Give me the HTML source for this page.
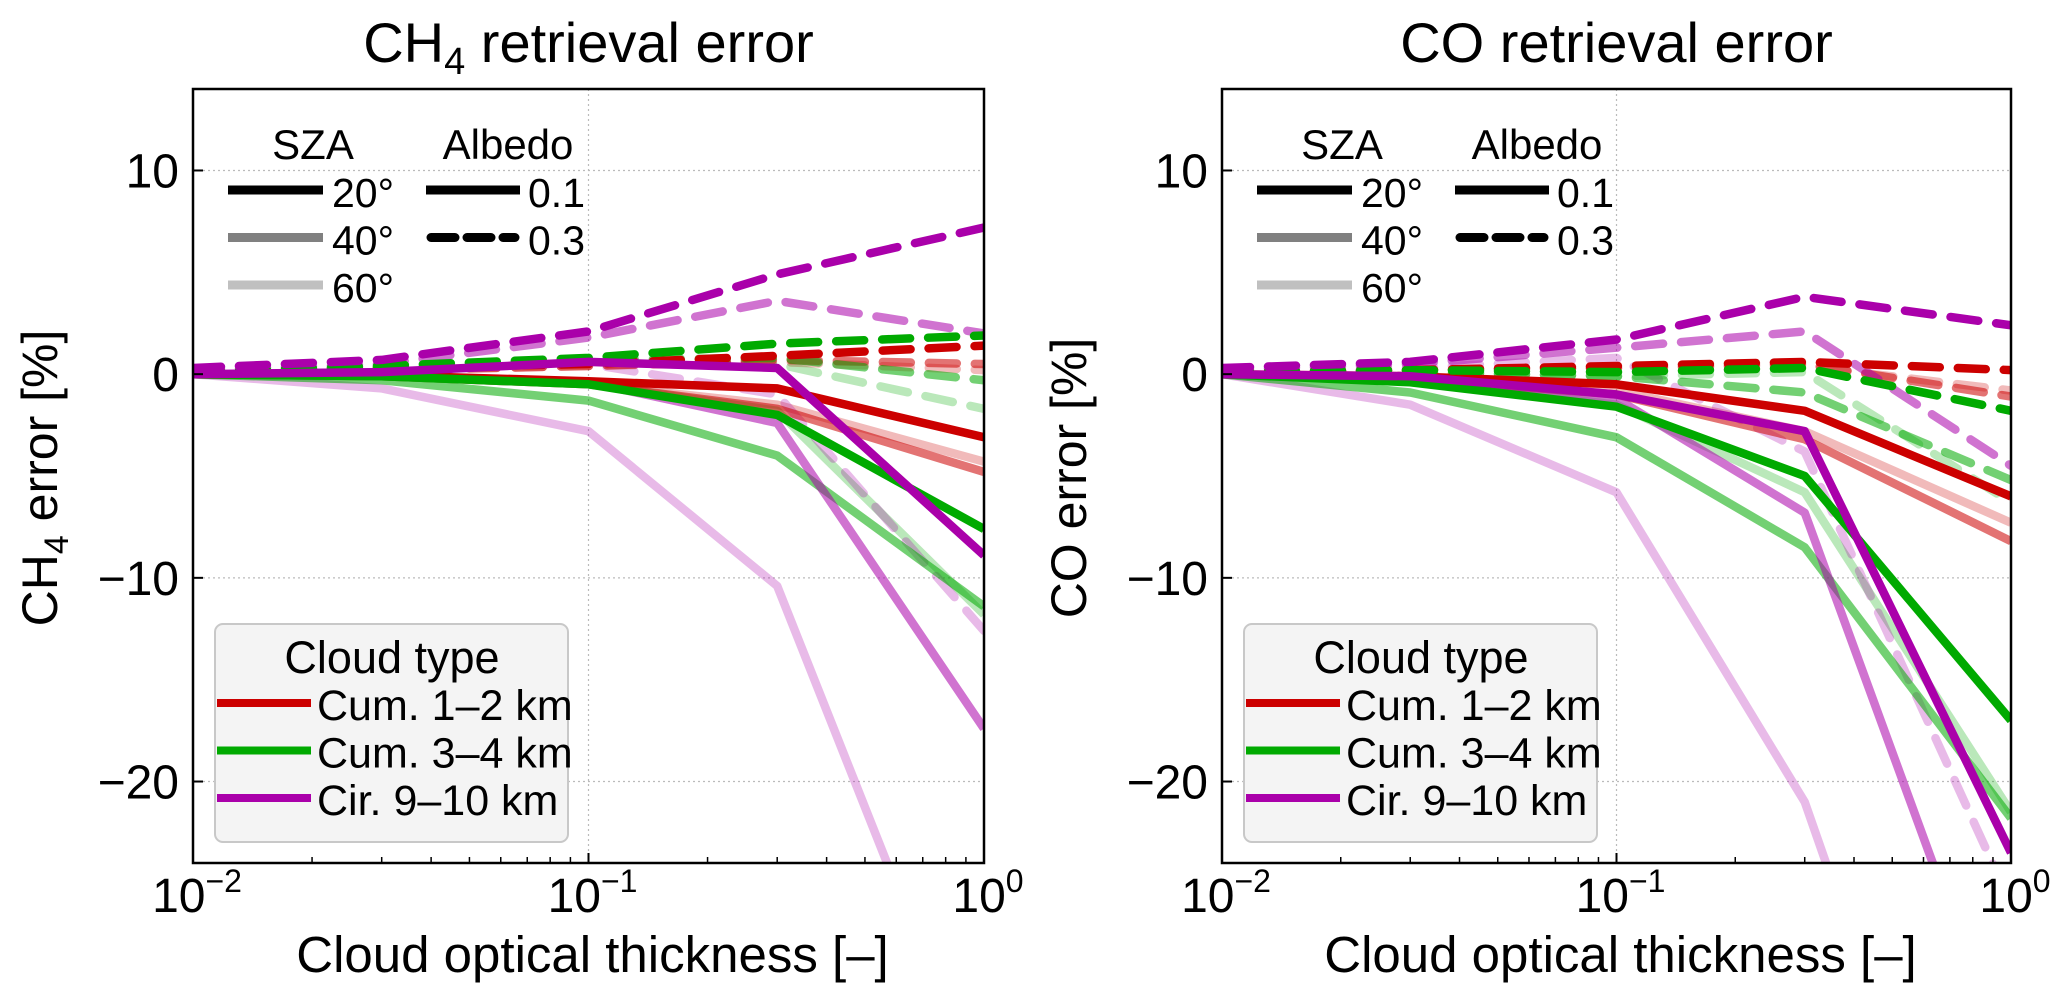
<!DOCTYPE html>
<html><head><meta charset="utf-8">
<style>
html,body{margin:0;padding:0;background:#fff;overflow:hidden;width:2067px;height:1000px;}
svg{display:block;font-family:"Liberation Sans",sans-serif;}
</style></head>
<body>
<svg id="fig" width="2067" height="1000" viewBox="0 0 2067 1000" xmlns="http://www.w3.org/2000/svg"></svg>
<script>
// ---- data ----
const xValues = [0.01, 0.03, 0.1, 0.3, 1];
const yTicks = [10, 0, -10, -20];
const yTickLabels = ["10", "0", "\u221210", "\u221220"];
const xTickExp = ["\u22122", "\u22121", "0"];
const cloudNames = ["Cum. 1\u20132 km", "Cum. 3\u20134 km", "Cir. 9\u201310 km"];
const szaLabels = ["20\u00b0", "40\u00b0", "60\u00b0"];
const albedoLabels = ["0.1", "0.3"];
// CH4: rows = SZA 20,40,60
const ch4CumLowA01 = [[0,-0.05,-0.35,-0.7,-3.1],[0,-0.1,-0.5,-1.7,-4.8],[0,-0.1,-0.5,-1.5,-4.3]];
const ch4CumLowA03 = [[0.1,0.3,0.5,0.9,1.4],[0.1,0.2,0.4,0.7,0.5],[0.1,0.2,0.4,0.6,0.2]];
const ch4CumMidA01 = [[0,-0.1,-0.5,-2.0,-7.6],[0,-0.3,-1.3,-4.0,-11.4],[0,-0.1,-0.5,-1.8,-11.8]];
const ch4CumMidA03 = [[0.1,0.4,0.8,1.5,1.9],[0.1,0.3,0.7,0.8,-0.3],[0.1,0.3,0.6,0.5,-1.7]];
const ch4CirA01 = [[0,0.1,0.6,0.3,-8.9],[0,-0.05,-0.4,-2.4,-17.4],[0,-0.7,-2.8,-10.4,-36]];
const ch4CirA03 = [[0.3,0.7,2.1,4.9,7.2],[0.2,0.5,1.8,3.6,2.0],[0.1,0.3,0.5,-1.0,-12.6]];
// CO
const coCumLowA01 = [[0,-0.1,-0.5,-1.8,-6.0],[0,-0.2,-1.0,-3.2,-8.2],[0,-0.1,-0.8,-2.8,-7.3]];
const coCumLowA03 = [[0.1,0.2,0.4,0.6,0.2],[0.1,0.2,0.3,0.5,-1.1],[0.1,0.2,0.3,0.4,-0.8]];
const coCumMidA01 = [[0,-0.4,-1.6,-5.0,-17.0],[0,-0.9,-3.1,-8.5,-21.8],[0,-0.3,-1.5,-5.8,-21.5]];
const coCumMidA03 = [[0.1,0.2,0.1,0.3,-1.8],[0.1,0.1,-0.1,-0.9,-5.2],[0.1,0.1,-0.1,0.1,-6.3]];
const coCirA01 = [[0,-0.1,-1.0,-2.8,-23.5],[0,-0.2,-1.2,-6.8,-34.5],[0,-1.5,-5.8,-21,-50]];
const coCirA03 = [[0.3,0.6,1.7,3.8,2.4],[0.2,0.5,1.3,2.1,-4.5],[0.1,0.3,0.8,-3.8,-26]];

const colors = ["#cc0000", "#00aa00", "#aa00aa"];
const alphas = [1, 0.55, 0.27];
const NS = "http://www.w3.org/2000/svg";
const svg = document.getElementById("fig");
function el(tag, attrs, parent) {
  const e = document.createElementNS(NS, tag);
  for (const k in attrs) e.setAttribute(k, attrs[k]);
  (parent || svg).appendChild(e);
  return e;
}
const Y0 = 89, Y1 = 863, YMIN = -24, YMAX = 14;

function panel(idx, x0, x1, title, yLabelMain, yLabelSub, series) {
  const g = el("g", {});
  
  
  const xs = v => x0 + (Math.log10(v) + 2) / 2 * (x1 - x0);
  const ys = v => Y0 + (YMAX - v) / (YMAX - YMIN) * (Y1 - Y0);
  const cid = "clip" + idx;
  const cp = el("clipPath", {id: cid}, g);
  el("rect", {x: x0, y: Y0, width: x1 - x0, height: Y1 - Y0}, cp);
  // grid
  yTicks.forEach(t => {
    if (t === 0) return;
    const l = el("line", {x1: x0, x2: x1, y1: ys(t), y2: ys(t), stroke: "#bbb", "stroke-width": 1.2, "stroke-dasharray": "2 3"}, g);
    
    
  });
  const gx = el("line", {x1: xs(0.1), x2: xs(0.1), y1: Y0, y2: Y1, stroke: "#bbb", "stroke-width": 1.2, "stroke-dasharray": "2 3"}, g);
  
  
  // series
  const lg = el("g", {"clip-path": "url(#" + cid + ")"}, g);
  for (let s = 2; s >= 0; s--) {
    for (let c = 0; c < 3; c++) {
      for (let a = 0; a < 2; a++) {
        const vals = series[c][a][s];
        const pts = xValues.map((x, i) => xs(x).toFixed(1) + "," + ys(vals[i]).toFixed(1)).join(" ");
        const attrs = {points: pts, fill: "none", stroke: colors[c], "stroke-width": 8.5, "stroke-opacity": alphas[s], "stroke-linejoin": "round"};
        if (a === 1) { attrs["stroke-dasharray"] = "28 18"; attrs["stroke-linecap"] = "round"; }
        const pl = el("polyline", attrs, lg);
        
        
      }
    }
  }
  // frame
  const fr = el("rect", {x: x0, y: Y0, width: x1 - x0, height: Y1 - Y0, fill: "none", stroke: "#000", "stroke-width": 2.5}, g);
  
  
  // y ticks
  yTicks.forEach((t, i) => {
    el("line", {x1: x0, x2: x0 + 10, y1: ys(t), y2: ys(t), stroke: "#000", "stroke-width": 2}, g);
    const tx = el("text", {x: x0 - 14, y: ys(t) + 17, "text-anchor": "end", "font-size": 48}, g);
    tx.textContent = yTickLabels[i];
    
    
  });
  // x ticks
  for (let d = -2; d <= 0; d++) {
    const px = xs(Math.pow(10, d));
    el("line", {x1: px, x2: px, y1: Y1, y2: Y1 - 10, stroke: "#000", "stroke-width": 2}, g);
    const tx = el("text", {x: px + 4, y: 912, "text-anchor": "middle", "font-size": 48}, g);
    
    
    const t1 = el("tspan", {}, tx); t1.textContent = "10";
    const t2 = el("tspan", {dy: -20, "font-size": 32}, tx); t2.textContent = xTickExp[d + 2];
    if (d < 0) for (let m = 2; m <= 9; m++) {
      const mx = xs(m * Math.pow(10, d));
      el("line", {x1: mx, x2: mx, y1: Y1, y2: Y1 - 6, stroke: "#000", "stroke-width": 1.5}, g);
    }
  }
  // title
  const tt = el("text", {x: (x0 + x1) / 2, y: 62, "text-anchor": "middle", "font-size": 56}, g);
  
  
  if (idx === 0) {
    const a = el("tspan", {}, tt); a.textContent = "CH";
    const b = el("tspan", {dy: 12, "font-size": 38}, tt); b.textContent = "4";
    const c = el("tspan", {dy: -12}, tt); c.textContent = " retrieval error";
  } else tt.textContent = title;
  // xlabel
  const xl = el("text", {x: (x0 + x1) / 2 + 4, y: 972, "text-anchor": "middle", "font-size": 51}, g);
  xl.textContent = "Cloud optical thickness [\u2013]";
  
  
  // ylabel
  const yl = el("text", {x: 0, y: 0, "text-anchor": "middle", "font-size": 50, transform: "translate(" + (x0 - 136) + ",478) rotate(-90)"}, g);
  
  
  if (yLabelSub) {
    const a = el("tspan", {}, yl); a.textContent = yLabelMain;
    const b = el("tspan", {dy: 11, "font-size": 34}, yl); b.textContent = yLabelSub;
    const c = el("tspan", {dy: -11}, yl); c.textContent = " error [%]";
  } else yl.textContent = yLabelMain + " error [%]";
  // SZA / albedo legend
  const lgd = el("g", {}, g);
  
  
  const o = x0 - 193;
  const t1 = el("text", {x: 313 + o, y: 159, "text-anchor": "middle", "font-size": 42}, lgd); t1.textContent = "SZA";
  const t2 = el("text", {x: 508 + o, y: 159, "text-anchor": "middle", "font-size": 42}, lgd); t2.textContent = "Albedo";
  const greys = ["#000", "#808080", "#c0c0c0"];
  szaLabels.forEach((lab, i) => {
    const y = 190 + i * 47.5;
    el("line", {x1: 228 + o, x2: 323 + o, y1: y, y2: y, stroke: greys[i], "stroke-width": 9}, lgd);
    const t = el("text", {x: 332 + o, y: y + 17, "font-size": 41}, lgd); t.textContent = lab;
    
    
  });
  albedoLabels.forEach((lab, i) => {
    const y = 190 + i * 47.5;
    const attrs = {x1: 426 + o + (i ? 5 : 0), x2: 520 + o - (i ? 5 : 0), y1: y, y2: y, stroke: "#000", "stroke-width": 9};
    if (i) { attrs["stroke-dasharray"] = "24 12"; attrs["stroke-linecap"] = "round"; }
    el("line", attrs, lgd);
    const t = el("text", {x: 528 + o, y: y + 17, "font-size": 41}, lgd); t.textContent = lab;
    
    
  });
  // cloud legend
  const cg = el("g", {}, g);
  
  
  const oc = x0 - 193;
  el("rect", {x: 215 + oc, y: 624, width: 353, height: 218, rx: 8, fill: "#f4f4f4", stroke: "#c8c8c8", "stroke-width": 2}, cg);
  const ct = el("text", {x: 392 + oc, y: 673, "text-anchor": "middle", "font-size": 45}, cg); ct.textContent = "Cloud type";
  cloudNames.forEach((n, i) => {
    const y = 703 + i * 47.5;
    el("line", {x1: 217 + oc, x2: 311 + oc, y1: y, y2: y, stroke: colors[i], "stroke-width": 8}, cg);
    const t = el("text", {x: 317 + oc, y: y + 17, "font-size": 43}, cg); t.textContent = n;
    
    
  });
}

panel(0, 193, 984, "CH4 retrieval error", "CH", "4",
  [[ch4CumLowA01, ch4CumLowA03], [ch4CumMidA01, ch4CumMidA03], [ch4CirA01, ch4CirA03]]);
panel(1, 1222, 2011, "CO retrieval error", "CO", null,
  [[coCumLowA01, coCumLowA03], [coCumMidA01, coCumMidA03], [coCirA01, coCirA03]]);
</script>
</body></html>
